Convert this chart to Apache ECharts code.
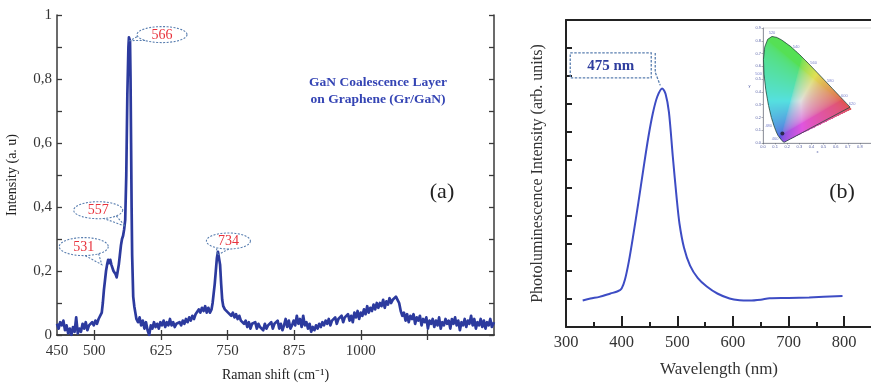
<!DOCTYPE html>
<html><head><meta charset="utf-8">
<script src="https://cdn.jsdelivr.net/npm/echarts@6/dist/echarts.min.js"></script>
<style>html,body{margin:0;padding:0;background:#fff}#c{width:871px;height:383px}</style>
</head><body><div id="c"></div>
<script>
// ---------- (a) Raman spectrum ----------
const ramanData = [
[430,.035],[433,.02],[436,.04],[439,.03],[442,.045],[445,.015],[448,.03],[451,.005],[454,.02],[457,.0],[460,.025],[463,.01],[466,.055],[469,.005],[472,.02],[475,.01],[478,.035],[481,.02],[484,.04],[487,.015],[490,.03],[493,.025],[496,.04],[499,.03],[502,.045],[505,.035],[508,.05],
[511,.045],[514,.07],[516,.1],[518,.14],[520,.17],[522,.2],[524,.22],[526,.235],[528,.225],[530,.235],[532,.22],[534,.215],[536,.2],[538,.205],[540,.19],[542,.18],[544,.2],[546,.22],[548,.25],[550,.28],[552,.3],[554,.31],[556,.33],[558,.36],[560,.5],[562,.75],[564,.9],[565,.93],[567,.92],[568,.8],[569,.6],[570,.4],[571,.25],[573,.12],[575,.09],[577,.07],[579,.05],
[582,.04],[585,.055],[588,.03],[591,.045],[594,.02],[597,.04],[600,.015],[603,.0],[606,.03],[609,.02],[612,.04],[615,.025],[618,.035],[621,.02],[624,.04],[627,.03],[630,.045],[633,.025],[636,.04],[639,.03],[642,.05],[645,.03],[648,.04],[651,.025],[654,.035],[657,.03],[660,.04],[663,.03],[666,.045],[669,.035],[672,.05],[675,.04],[678,.055],[681,.045],[684,.06],[687,.05],[690,.065],[693,.06],[696,.08],[699,.07],[702,.085],[705,.075],[708,.09],[711,.07],[714,.085],[717,.07],[720,.08],[722,.1],[724,.13],[726,.16],[728,.2],[730,.24],[732,.26],[734,.255],[736,.22],[738,.16],[740,.11],[742,.09],[745,.08],[748,.085],[751,.07],[754,.075],[757,.06],[760,.07],[763,.055],[766,.065],[769,.05],[772,.06],[775,.045],[778,.05],
[781,.035],[784,.045],[787,.025],[790,.04],[793,.02],[796,.035],[799,.03],[802,.04],[805,.02],[808,.035],[811,.025],[814,.03],[817,.015],[820,.035],[823,.02],[826,.03],[829,.025],[832,.04],[835,.02],[838,.035],[841,.03],[844,.045],[847,.02],[850,.035],[853,.015],[856,.03],[859,.05],[862,.025],[865,.045],[868,.02],[871,.03],
[874,.045],[877,.03],[880,.06],[883,.035],[886,.05],[889,.025],[892,.06],[895,.03],[898,.04],[901,.02],[904,.035],[907,.01],[910,.025],[913,.015],[916,.03],[919,.02],[922,.035],[925,.025],[928,.04],[931,.03],[934,.045],[937,.035],[940,.05],[943,.03],[946,.045],[949,.04],[952,.055],[955,.035],[958,.05],[961,.045],[964,.06],[967,.04],[970,.055],[973,.05],[976,.065],[979,.045],[982,.06],[985,.04],[988,.07],[991,.055],[994,.075],[997,.05],[1000,.07],[1003,.06],[1006,.08],[1009,.065],[1012,.09],[1015,.07],[1018,.085],[1021,.075],[1024,.095],[1027,.08],[1030,.1],[1033,.085],[1036,.1],[1039,.09],[1042,.11],[1045,.085],[1048,.105],[1051,.095],[1054,.115],[1057,.1],[1060,.11],[1063,.105],[1066,.12],[1069,.11],[1072,.1],[1075,.075],[1078,.06],[1081,.07],[1084,.045],[1087,.065],[1090,.04],[1093,.06],[1096,.05],[1099,.065],[1102,.035],[1105,.055],[1108,.045],[1111,.06],[1114,.03],[1117,.05],[1120,.04],[1123,.055],[1126,.02],[1129,.045],[1132,.035],[1135,.05],[1138,.025],[1141,.045],[1144,.03],[1147,.055],[1150,.02],[1153,.04],[1156,.03],[1159,.05],[1162,.035],[1165,.045],[1168,.02],[1171,.05],[1174,.035],[1177,.055],[1180,.03],[1183,.045],[1186,.015],[1189,.04],[1192,.03],[1195,.05],[1198,.025],[1201,.045],[1204,.035],[1207,.06],[1210,.03],[1213,.05],[1216,.02],[1219,.04],[1222,.03],[1225,.05],[1228,.025],[1231,.045],[1234,.02],[1237,.04],[1240,.03],[1243,.05],[1246,.025],[1250,.04]
];
const ramanLabelValues = [430, 500, 625, 750, 875, 1000];
const ramanLabelTexts = ['450', '500', '625', '750', '875', '1000'];
const ramanTickValues = [500, 625, 750, 875, 1000, 1125];
const ramanPeakLabels = ['566', '557', '531', '734'];
const ramanPeakShift = [567, 558, 514, 731];
const ramanPeakIntensity = [0.92, 0.34, 0.22, 0.25];
const sampleText = ['GaN Coalescence Layer', 'on Graphene (Gr/GaN)'];

// ---------- (b) Photoluminescence ----------
const plData = [
[330,0.95],[344,1.02],[360,1.08],[380,1.2],[393,1.28],[400,1.38],[406,1.7],[413,2.35],[421,3.3],[430,4.45],[439,5.65],[448,6.8],[456,7.65],[464,8.25],[473,8.55],[479,8.35],[485,7.7],[492,6.1],[499,4.6],[504,3.7],[512,2.85],[523,2.2],[537,1.75],[553,1.45],[572,1.2],[594,1.02],[612,0.96],[630,0.95],[650,0.98],[666,1.03],[700,1.04],[737,1.06],[797,1.11]
];
const plPeakLabel = '475 nm';
const plPeak = [473, 8.55];

// ---------- CIE inset ----------
const cieLocus = [
[0.1741,0.0050],[0.1714,0.0051],[0.1644,0.0109],[0.1566,0.0177],[0.1440,0.0297],[0.1241,0.0578],[0.1096,0.0868],[0.0913,0.1327],[0.0687,0.2007],[0.0454,0.2950],[0.0235,0.4127],[0.0082,0.5384],[0.0039,0.6548],[0.0139,0.7502],[0.0389,0.8120],[0.0743,0.8338],[0.1142,0.8262],[0.1547,0.8059],[0.2296,0.7543],[0.3016,0.6923],[0.3731,0.6245],[0.4441,0.5547],[0.5125,0.4866],[0.5752,0.4242],[0.6270,0.3725],[0.6658,0.3340],[0.6915,0.3083],[0.7190,0.2809],[0.7347,0.2653],[0.1741,0.0050]
];
const cieMarkNames = ['520','540','560','580','600','620','500','480','460'];
const cieMarkXY = [[0.0743,0.8338],[0.2296,0.7543],[0.3731,0.6245],[0.5125,0.4866],[0.6270,0.3725],[0.6915,0.3083],[0.0082,0.5384],[0.0913,0.1327],[0.1440,0.0297]];
const ciePoint = [[0.16, 0.075]];

const SERIF = '"Liberation Serif","Times New Roman",serif';
const AX = '#3a3a3a';

// CIE gamut image (decorative fill of the inset)
function inside(px, py, poly){
  let c = false;
  for (let i = 0, j = poly.length - 1; i < poly.length; j = i++) {
    const xi = poly[i][0], yi = poly[i][1], xj = poly[j][0], yj = poly[j][1];
    if (((yi > py) !== (yj > py)) && (px < (xj - xi) * (py - yi) / (yj - yi) + xi)) c = !c;
  }
  return c;
}
function makeCie(){
  const W = 240, H = 270;
  const cv = document.createElement('canvas'); cv.width = W; cv.height = H;
  const ctx = cv.getContext('2d');
  const img = ctx.createImageData(W, H);
  for (let j = 0; j < H; j++) for (let i = 0; i < W; i++) {
    const x = (i + 0.5) / W * 0.8, y = 0.9 - (j + 0.5) / H * 0.9;
    const k = (j * W + i) * 4;
    if (y <= 0.001 || !inside(x, y, cieLocus)) { img.data[k+3] = 0; continue; }
    const X = x / y, Y = 1, Z = (1 - x - y) / y;
    let r = 3.2406*X - 1.5372*Y - 0.4986*Z;
    let g = -0.9689*X + 1.8758*Y + 0.0415*Z;
    let b = 0.0557*X - 0.2040*Y + 1.0570*Z;
    r = Math.max(r, 0); g = Math.max(g, 0); b = Math.max(b, 0);
    const m = Math.max(r, g, b) || 1;
    const gm = v => { v = v / m; return v <= 0.0031308 ? 12.92*v : 1.055*Math.pow(v, 1/2.4) - 0.055; };
    const soft = 0.38, dim = 0.88;
    img.data[k] = 255 * dim * (gm(r) * (1 - soft) + soft);
    img.data[k+1] = 255 * dim * (gm(g) * (1 - soft) + soft);
    img.data[k+2] = 255 * dim * (gm(b) * (1 - soft) + soft);
    img.data[k+3] = 255;
  }
  ctx.putImageData(img, 0, 0);
  return cv;
}
const cieImage = makeCie();

const chart = echarts.init(document.getElementById('c'), null, {renderer: 'canvas'});
const lblA = {fontFamily: SERIF, fontSize: 15, color: '#333'};
const option = {
  animation: false,
  backgroundColor: '#fff',
  grid: [
    {left: 57, top: 15, right: 377, bottom: 48, outerBoundsMode: 'none', containLabel: false},
    {left: 566, top: 20, right: -1, bottom: 56, outerBoundsMode: 'none', containLabel: false},
    {left: 763, top: 28, right: -1, bottom: 240, outerBoundsMode: 'none', containLabel: false,
     show: true, borderColor: '#c8c8c8', borderWidth: 0.6, backgroundColor: '#fff', z: 5}
  ],
  xAxis: [
    {gridIndex: 0, type: 'value', min: 430, max: 1250, position: 'bottom',
     axisLine: {lineStyle: {color: AX, width: 1.5}},
     axisTick: {inside: true, length: 5, customValues: ramanTickValues, lineStyle: {color: AX, width: 1.3}},
     axisLabel: Object.assign({customValues: ramanLabelValues, margin: 9,
       formatter: v => ramanLabelTexts[ramanLabelValues.indexOf(v)]}, lblA),
     splitLine: {show: false},
     name: 'Raman shift (cm\u207B\u00B9)', nameLocation: 'middle', nameGap: 33,
     nameTextStyle: {fontFamily: SERIF, fontSize: 14, color: '#222'}},
    {gridIndex: 0, type: 'value', min: 430, max: 1250, position: 'top',
     axisLine: {lineStyle: {color: AX, width: 1.5}},
     axisTick: {inside: true, length: 5, customValues: ramanTickValues, lineStyle: {color: AX, width: 1.3}},
     axisLabel: {show: false}, splitLine: {show: false}},
    {gridIndex: 1, type: 'value', min: 300, max: 850, interval: 100, position: 'bottom',
     axisLine: {lineStyle: {color: '#222', width: 2}},
     axisTick: {inside: true, length: 11, lineStyle: {color: '#222', width: 2}},
     minorTick: {show: true, splitNumber: 2, length: 5, lineStyle: {color: '#222', width: 2}},
     axisLabel: {fontFamily: SERIF, fontSize: 16.5, color: '#333', margin: 7, showMaxLabel: false},
     splitLine: {show: false}, minorSplitLine: {show: false},
     name: 'Wavelength (nm)', nameLocation: 'middle', nameGap: 34,
     nameTextStyle: {fontFamily: SERIF, fontSize: 17, color: '#333'}},
    {gridIndex: 1, type: 'value', min: 300, max: 850, position: 'top',
     axisLine: {lineStyle: {color: '#222', width: 2}}, axisTick: {show: false}, axisLabel: {show: false}, splitLine: {show: false}},
    {gridIndex: 2, type: 'value', min: 0, max: 0.9, interval: 0.1, position: 'bottom', z: 6,
     axisLine: {lineStyle: {color: '#5a6070', width: 0.6}},
     axisTick: {length: 1.5, lineStyle: {color: '#5a6070', width: 0.5}},
     axisLabel: {fontSize: 4, color: '#5a64a8', margin: 2, showMaxLabel: false, formatter: v => v.toFixed(1)},
     splitLine: {show: false},
     name: 'x', nameLocation: 'middle', nameGap: 7, nameTextStyle: {fontSize: 4, color: '#5a64a8'}}
  ],
  yAxis: [
    {gridIndex: 0, type: 'value', min: 0, max: 1, interval: 0.2, position: 'left',
     axisLine: {show: true, lineStyle: {color: AX, width: 1.5}},
     axisTick: {show: true, inside: true, length: 5, lineStyle: {color: AX, width: 1.3}},
     minorTick: {show: true, splitNumber: 2, length: 5, lineStyle: {color: AX, width: 1.3}},
     axisLabel: Object.assign({margin: 5, formatter: v => (Math.round(v * 10) / 10).toString().replace('.', ',')}, lblA),
     splitLine: {show: false}, minorSplitLine: {show: false},
     name: 'Intensity (a. u)', nameLocation: 'middle', nameGap: 38,
     nameTextStyle: {fontFamily: SERIF, fontSize: 14, color: '#222'}},
    {gridIndex: 0, type: 'value', min: 0, max: 1, interval: 0.2, position: 'right',
     axisLine: {show: true, lineStyle: {color: AX, width: 1.5}},
     axisTick: {show: true, inside: true, length: 5, lineStyle: {color: AX, width: 1.3}},
     minorTick: {show: true, splitNumber: 2, length: 5, lineStyle: {color: AX, width: 1.3}},
     axisLabel: {show: false}, splitLine: {show: false}, minorSplitLine: {show: false}},
    {gridIndex: 1, type: 'value', min: 0, max: 11, interval: 1, position: 'left',
     axisLine: {show: true, lineStyle: {color: '#222', width: 2}},
     axisTick: {show: true, inside: true, length: 6, lineStyle: {color: '#222', width: 2}},
     axisLabel: {show: false}, splitLine: {show: false},
     name: 'Photoluminescence Intensity (arb. units)', nameLocation: 'middle', nameGap: 20,
     nameTextStyle: {fontFamily: SERIF, fontSize: 16, color: '#333'}},
    {gridIndex: 2, type: 'value', min: 0, max: 0.9, interval: 0.1, position: 'left', z: 6,
     axisLine: {show: true, lineStyle: {color: '#5a6070', width: 0.6}},
     axisTick: {show: true, length: 1.5, lineStyle: {color: '#5a6070', width: 0.5}},
     axisLabel: {fontSize: 4, color: '#5a64a8', margin: 2, formatter: v => v.toFixed(1)},
     splitLine: {show: false},
     name: 'y', nameLocation: 'middle', nameGap: 10, nameRotate: 0, nameTextStyle: {fontSize: 4, color: '#5a64a8'}}
  ],
  series: [
    {type: 'line', xAxisIndex: 0, yAxisIndex: 0, data: ramanData, symbol: 'none',
     lineStyle: {color: '#2c3a9e', width: 2.7, join: 'round'}, z: 3},
    {type: 'line', xAxisIndex: 2, yAxisIndex: 2, data: plData, symbol: 'none', smooth: 0.3,
     lineStyle: {color: '#3d4cc4', width: 2}, z: 3},
    {type: 'custom', xAxisIndex: 4, yAxisIndex: 3, data: [[0, 0.9, 0.8, 0]], z: 7, silent: true,
     renderItem: (params, api) => {
       const p0 = api.coord([api.value(0), api.value(1)]);
       const p1 = api.coord([api.value(2), api.value(3)]);
       return {type: 'image', style: {image: cieImage, x: p0[0], y: p0[1], width: p1[0] - p0[0], height: p1[1] - p0[1]}};
     }},
    {type: 'line', xAxisIndex: 4, yAxisIndex: 3, data: cieLocus, symbol: 'none', z: 8,
     lineStyle: {color: '#24493c', width: 0.8}},
    {type: 'scatter', xAxisIndex: 4, yAxisIndex: 3, z: 9, symbolSize: 0,
     data: cieMarkXY.map((p, i) => ({value: p, name: cieMarkNames[i],
       label: {position: i === 0 ? 'top' : (i >= 6 ? 'left' : 'right'), distance: 2}})),
     label: {show: true, formatter: p => p.name, fontSize: 4, color: '#5a64c0'}},
    {type: 'scatter', xAxisIndex: 4, yAxisIndex: 3, z: 9, data: ciePoint, symbolSize: 4,
     itemStyle: {color: '#1a1a2a'}}
  ]
};
chart.setOption(option);

// ---------- annotations ----------
const bubbleLayout = [ // ellipse centre offset from tip (px), radii
  {dx: 32, dy: -6, rx: 25, ry: 8},
  {dx: -27, dy: -16, rx: 24.5, ry: 8.5},
  {dx: -18, dy: -18, rx: 24.5, ry: 9},
  {dx: 11, dy: -14, rx: 22, ry: 8}
];
const dashColor = '#5a7fb0';
const graphics = [];
ramanPeakLabels.forEach((lab, i) => {
  const tip = chart.convertToPixel({xAxisIndex: 0, yAxisIndex: 0}, [ramanPeakShift[i], ramanPeakIntensity[i]]);
  const L = bubbleLayout[i];
  const cx = tip[0] + L.dx, cy = tip[1] + L.dy;
  const pts = [];
  for (let k = 0; k < 56; k++) { const a = k / 56 * Math.PI * 2; pts.push([cx + L.rx * Math.cos(a), cy + L.ry * Math.sin(a)]); }
  graphics.push({type: 'polygon', shape: {points: pts}, z: 20,
    style: {fill: 'rgba(255,255,255,0)', stroke: dashColor, lineWidth: 1.1, lineDash: [2, 1.5]}});
  const th = Math.atan2((tip[1] - cy) / L.ry, (tip[0] - cx) / L.rx);
  const e1 = [cx + L.rx * Math.cos(th - 0.3), cy + L.ry * Math.sin(th - 0.3)];
  const e2 = [cx + L.rx * Math.cos(th + 0.3), cy + L.ry * Math.sin(th + 0.3)];
  graphics.push({type: 'polyline', shape: {points: [e1, tip, e2]}, z: 20,
    style: {fill: null, stroke: dashColor, lineWidth: 1.1, lineDash: [2, 1.5]}});
  graphics.push({type: 'text', z: 21, style: {text: lab, x: cx, y: cy + 0.5, align: 'center', verticalAlign: 'middle',
    font: '14px ' + SERIF, fill: '#e8323c'}});
});
// sample description (a)
sampleText.forEach((t, i) => {
  graphics.push({type: 'text', z: 20, style: {text: t, x: 378, y: 83 + i * 17, align: 'center', verticalAlign: 'middle',
    font: 'bold 13.5px ' + SERIF, fill: '#3444b4'}});
});
graphics.push({type: 'text', z: 20, style: {text: '(a)', x: 442, y: 192, align: 'center', verticalAlign: 'middle', font: '22px ' + SERIF, fill: '#222'}});
graphics.push({type: 'text', z: 20, style: {text: '(b)', x: 842, y: 192, align: 'center', verticalAlign: 'middle', font: '22px ' + SERIF, fill: '#222'}});
// PL peak callout
const pk = chart.convertToPixel({xAxisIndex: 2, yAxisIndex: 2}, plPeak);
graphics.push({type: 'rect', z: 20, shape: {x: pk[0] - 92, y: pk[1] - 35.5, width: 81, height: 25},
  style: {fill: 'rgba(255,255,255,0)', stroke: dashColor, lineWidth: 1.3, lineDash: [2.5, 1.5]}});
graphics.push({type: 'polyline', z: 20, shape: {points: [[pk[0] - 7, pk[1] - 35.5], [pk[0] - 7, pk[1] - 16], [pk[0] - 2, pk[1] - 3]]},
  style: {fill: null, stroke: dashColor, lineWidth: 1.3, lineDash: [2.5, 1.5]}});
graphics.push({type: 'text', z: 21, style: {text: plPeakLabel, x: pk[0] - 51.5, y: pk[1] - 22.5, align: 'center', verticalAlign: 'middle',
  font: 'bold 15px ' + SERIF, fill: '#2e3d9e'}});
chart.setOption({graphic: graphics});
</script></body></html>
